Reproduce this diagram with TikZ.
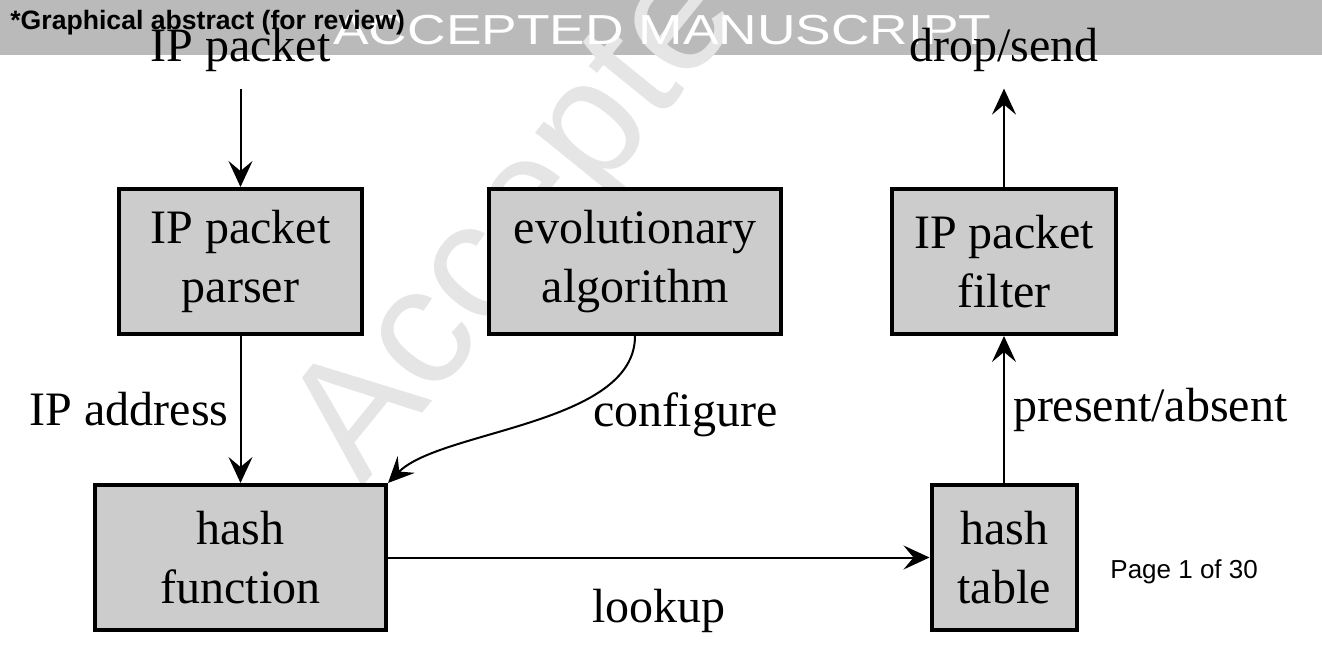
\documentclass[tikz,border=0pt]{standalone}
\usepackage{fontspec}
\setmainfont{Liberation Serif}
\newfontfamily\hdrfont{Liberation Sans}
\usetikzlibrary{arrows.meta}

\begin{document}
\begin{tikzpicture}[x=0.5pt,y=-0.5pt]
	\tikzstyle{every node}=[font=\fontsize{24}{29.5}\selectfont]
	\tikzstyle{block}=[draw,line width=2pt,fill=black!20,align=center,inner sep=0pt,minimum height=72.5pt]
	\tikzstyle{lbl}=[inner sep=0pt]
	\tikzstyle{arr}=[-{Stealth[length=13pt,width=12pt,inset=5pt]},line width=1pt]
	\clip (0,0) rectangle (1322,662);
	\fill[white] (0,0) rectangle (1322,662);
	\fill[black!27] (0,0) rectangle (1322,55);
	\node[lbl,anchor=base west,rotate=51,text=black!10,font=\hdrfont\fontsize{84}{90}\selectfont] (wmark) at (362,488) {Accepted Manuscript};
	\node[lbl,anchor=base west,text=white,font=\hdrfont\fontsize{21}{25}\selectfont] (stamp) at (333,45) {\scalebox{1.27}[1]{ACCEPTED MANUSCRIPT}};
	\node[lbl,anchor=base west,font=\hdrfont\bfseries\fontsize{13.3}{16}\selectfont] (hdr) at (10,30) {*Graphical abstract (for review)};
	\node[block,minimum width=121.5pt] (parser) at (240.5,261.5) {IP packet\\parser};
	\node[block,minimum width=146pt] (evo) at (635,261.5) {evolutionary\\algorithm};
	\node[block,minimum width=112pt] (filter) at (1004,261.5) {IP packet\\filter};
	\node[block,minimum width=145.5pt] (hashfn) at (240.5,557.5) {hash\\function};
	\node[block,minimum width=72.5pt] (hashtab) at (1004,557.5) {hash\\table};
	\node[lbl,inner sep=8pt,anchor=base] (pktin) at (240.5,62) {IP packet};
	\node[lbl,inner sep=8pt,anchor=base] (verdict) at (1004,62) {drop/send};
	\draw[arr] (pktin) -- (parser);
	\draw[arr] (parser) -- node[lbl,left=5.5pt] {IP address} (hashfn);
	\draw[arr] (evo.south) .. controls +(0,89) and +(52,-53) .. (hashfn.north east);
	\node[lbl,anchor=base west] (cfg) at (593,427) {configure};
	\draw[arr] (hashfn) -- node[lbl,below=15.5pt] {lookup} (hashtab);
	\draw[arr] (hashtab) -- node[lbl,right=4pt] {present/absent} (filter);
	\draw[arr] (filter) -- (verdict);
	\node[lbl,anchor=base west,font=\hdrfont\fontsize{13}{15}\selectfont] (pageno) at (1110,578) {Page 1 of 30};
\end{tikzpicture}
\end{document}
